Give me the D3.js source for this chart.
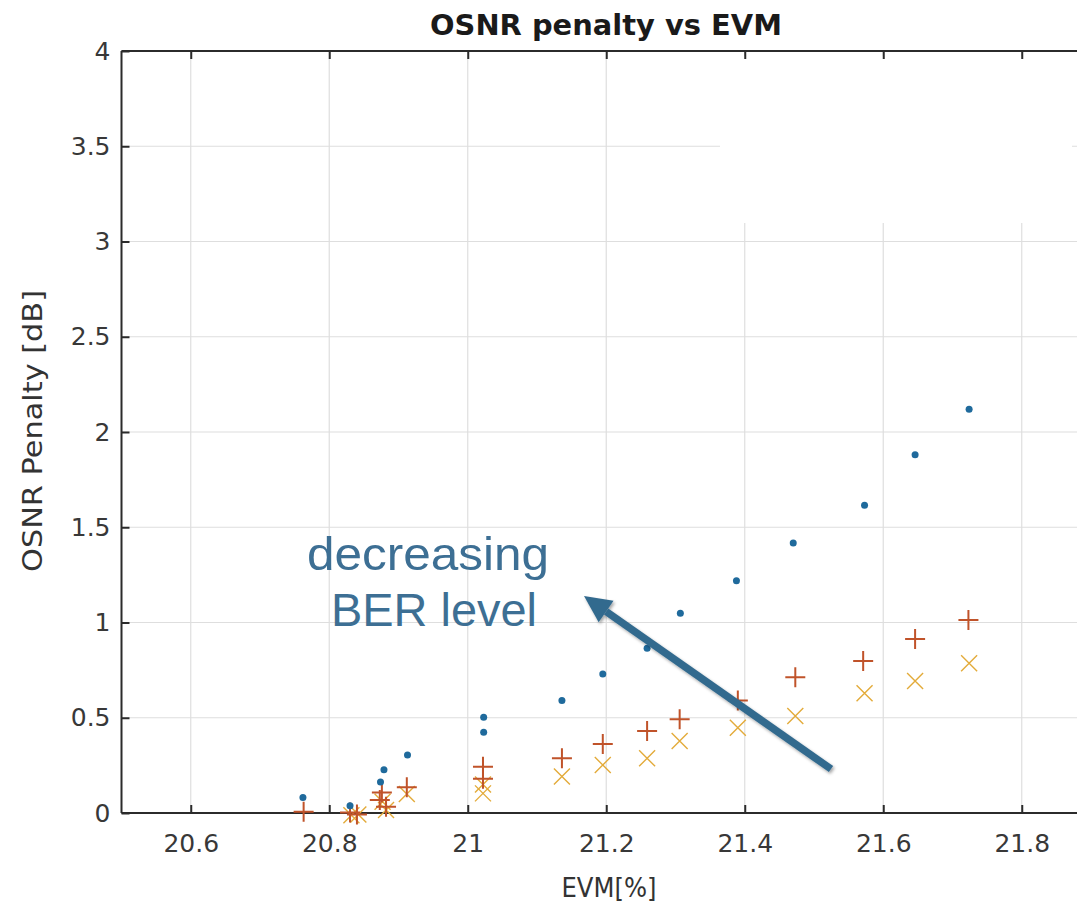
<!DOCTYPE html>
<html>
<head>
<meta charset="utf-8">
<script src="https://cdn.jsdelivr.net/npm/d3@7"></script>
<style>
  html, body { margin: 0; padding: 0; background: #fff; }
  svg { display: block; }
</style>
</head>
<body>
<svg id="chart" width="1077" height="903"></svg>
<script>
// EVM [%] vs OSNR penalty [dB], three BER thresholds
const dotEVM     = [20.762, 20.830, 20.874, 20.879, 20.913, 21.023, 21.023, 21.136, 21.195, 21.259, 21.307, 21.388, 21.470, 21.573, 21.646, 21.724];
const dotPenalty = [0.082, 0.038, 0.163, 0.227, 0.304, 0.424, 0.502, 0.590, 0.730, 0.865, 1.048, 1.219, 1.417, 1.615, 1.881, 2.119];

const plusEVM     = [20.763, 20.830, 20.840, 20.873, 20.876, 20.882, 20.912, 21.022, 21.022, 21.136, 21.195, 21.259, 21.306, 21.390, 21.473, 21.571, 21.646, 21.723];
const plusPenalty = [0.007, 0.002, -0.008, 0.068, 0.107, 0.033, 0.135, 0.243, 0.180, 0.287, 0.362, 0.430, 0.492, 0.590, 0.712, 0.798, 0.913, 1.013];

const crossEVM     = [20.832, 20.842, 20.877, 20.882, 20.912, 21.022, 21.022, 21.136, 21.195, 21.259, 21.306, 21.390, 21.473, 21.573, 21.646, 21.724];
const crossPenalty = [-0.012, -0.008, 0.059, 0.016, 0.100, 0.150, 0.103, 0.191, 0.252, 0.287, 0.378, 0.448, 0.509, 0.628, 0.693, 0.786];

const xTicks = [20.6, 20.8, 21, 21.2, 21.4, 21.6, 21.8];
const yTicks = [0, 0.5, 1, 1.5, 2, 2.5, 3, 3.5, 4];

const svg = d3.select("#chart");
const x = d3.scaleLinear().domain([20.5, 21.9]).range([121.5, 1091]);
const y = d3.scaleLinear().domain([0, 4]).range([813, 51]);
const [x0, x1] = x.range();
const [yb, yt] = y.range();

const axisColor = "#2b2b2b";
const gridColor = "#dedede";

// grid
const grid = svg.append("g");
grid.selectAll("line.gx").data(xTicks).join("line")
  .attr("x1", d => x(d)).attr("x2", d => x(d))
  .attr("y1", yt).attr("y2", yb)
  .attr("stroke", gridColor).attr("stroke-width", 1.2);
grid.selectAll("line.gy").data(yTicks.slice(1, -1)).join("line")
  .attr("x1", x0).attr("x2", x1)
  .attr("y1", d => y(d)).attr("y2", d => y(d))
  .attr("stroke", gridColor).attr("stroke-width", 1.2);

// blank panel over the upper right corner
svg.append("rect")
  .attr("x", 720).attr("y", 56).attr("width", 352).attr("height", 167)
  .attr("fill", "#fff");

// axes with inward ticks
const tickFont = "'DejaVu Sans', sans-serif";
const axBottom = svg.append("g").attr("transform", `translate(0,${yb})`)
  .call(d3.axisBottom(x).tickValues(xTicks).tickSize(-8).tickPadding(24).tickFormat(d3.format("")));
const axTop = svg.append("g").attr("transform", `translate(0,${yt})`)
  .call(d3.axisTop(x).tickValues(xTicks).tickSize(-8).tickFormat(""));
const axLeft = svg.append("g").attr("transform", `translate(${x0},0)`)
  .call(d3.axisLeft(y).tickValues(yTicks).tickSize(-8).tickPadding(11).tickFormat(d3.format("")));
[axBottom, axTop, axLeft].forEach(g => {
  g.select(".domain").attr("stroke", axisColor).attr("stroke-width", 2);
  g.selectAll(".tick line").attr("stroke", axisColor).attr("stroke-width", 2);
  g.selectAll(".tick text").attr("fill", "#383838").style("font-family", tickFont).style("font-size", "25px");
});
axBottom.select(".domain").attr("d", `M${x0},0H${x1}`);
axTop.select(".domain").attr("d", `M${x0},0H${x1}`);
axLeft.select(".domain").attr("d", `M0,${yb}V${yt}`);
axBottom.selectAll(".tick text").attr("dy", "0.6em");

// markers
const plot = svg.append("g");
const crossData = d3.zip(crossEVM, crossPenalty);
const plusData = d3.zip(plusEVM, plusPenalty);
const dotData = d3.zip(dotEVM, dotPenalty);

plot.selectAll("path.cross").data(crossData).join("path")
  .attr("class", "cross")
  .attr("d", d => { const cx = x(d[0]), cy = y(d[1]), s = 8;
    return `M${cx - s},${cy - s}L${cx + s},${cy + s}M${cx - s},${cy + s}L${cx + s},${cy - s}`; })
  .attr("stroke", "#e3ab3a").attr("stroke-width", 1.4).attr("fill", "none");

plot.selectAll("path.plus").data(plusData).join("path")
  .attr("class", "plus")
  .attr("d", d => { const cx = x(d[0]), cy = y(d[1]), s = 10;
    return `M${cx - s},${cy}L${cx + s},${cy}M${cx},${cy - s}L${cx},${cy + s}`; })
  .attr("stroke", "#c0532a").attr("stroke-width", 2).attr("fill", "none");

plot.selectAll("circle.dot").data(dotData).join("circle")
  .attr("class", "dot")
  .attr("cx", d => x(d[0])).attr("cy", d => y(d[1]))
  .attr("r", 3.5).attr("fill", "#1f6a9c");

// titles
svg.append("text").attr("x", 606).attr("y", 35).attr("text-anchor", "middle")
  .attr("textLength", 352).attr("lengthAdjust", "spacingAndGlyphs")
  .style("font-family", "'DejaVu Sans', sans-serif").style("font-weight", "bold").style("font-size", "28px")
  .attr("fill", "#1a1a1a").text("OSNR penalty vs EVM");
svg.append("text").attr("x", 609).attr("y", 897).attr("text-anchor", "middle")
  .attr("textLength", 95).attr("lengthAdjust", "spacingAndGlyphs")
  .style("font-family", "'DejaVu Sans', sans-serif").style("font-size", "26px")
  .attr("fill", "#333").text("EVM[%]");
svg.append("text").attr("transform", "translate(42,431) rotate(-90)").attr("text-anchor", "middle")
  .attr("textLength", 282).attr("lengthAdjust", "spacingAndGlyphs")
  .style("font-family", "'DejaVu Sans', sans-serif").style("font-size", "26px")
  .attr("fill", "#333").text("OSNR Penalty [dB]");

// annotation arrow
const defs = svg.append("defs");
const shadow = defs.append("filter").attr("id", "shadow").attr("x", "-20%").attr("y", "-20%").attr("width", "140%").attr("height", "140%");
shadow.append("feDropShadow").attr("dx", 1.5).attr("dy", 2).attr("stdDeviation", 1.5).attr("flood-color", "#000").attr("flood-opacity", 0.35);

const tail = [831, 769], tip = [584, 596];
const ang = Math.atan2(tip[1] - tail[1], tip[0] - tail[0]);
const headLen = 27, headHalf = 13;
const bx = tip[0] - headLen * Math.cos(ang), by = tip[1] - headLen * Math.sin(ang);
const px = -Math.sin(ang), py = Math.cos(ang);
const arrow = svg.append("g").attr("filter", "url(#shadow)");
arrow.append("line").attr("x1", tail[0]).attr("y1", tail[1]).attr("x2", bx).attr("y2", by)
  .attr("stroke", "#336a8e").attr("stroke-width", 7.5);
arrow.append("path")
  .attr("d", `M${tip[0]},${tip[1]}L${bx + headHalf * px},${by + headHalf * py}L${bx - headHalf * px},${by - headHalf * py}Z`)
  .attr("fill", "#336a8e");

const note = svg.append("text").attr("text-anchor", "middle")
  .style("font-family", "'Liberation Sans', Arial, sans-serif").style("font-size", "47px")
  .attr("fill", "#3d6f94");
note.append("tspan").attr("x", 428).attr("y", 570).attr("textLength", 242).attr("lengthAdjust", "spacingAndGlyphs").text("decreasing");
note.append("tspan").attr("x", 434).attr("y", 626).attr("textLength", 206).attr("lengthAdjust", "spacingAndGlyphs").text("BER level");
</script>
</body>
</html>
